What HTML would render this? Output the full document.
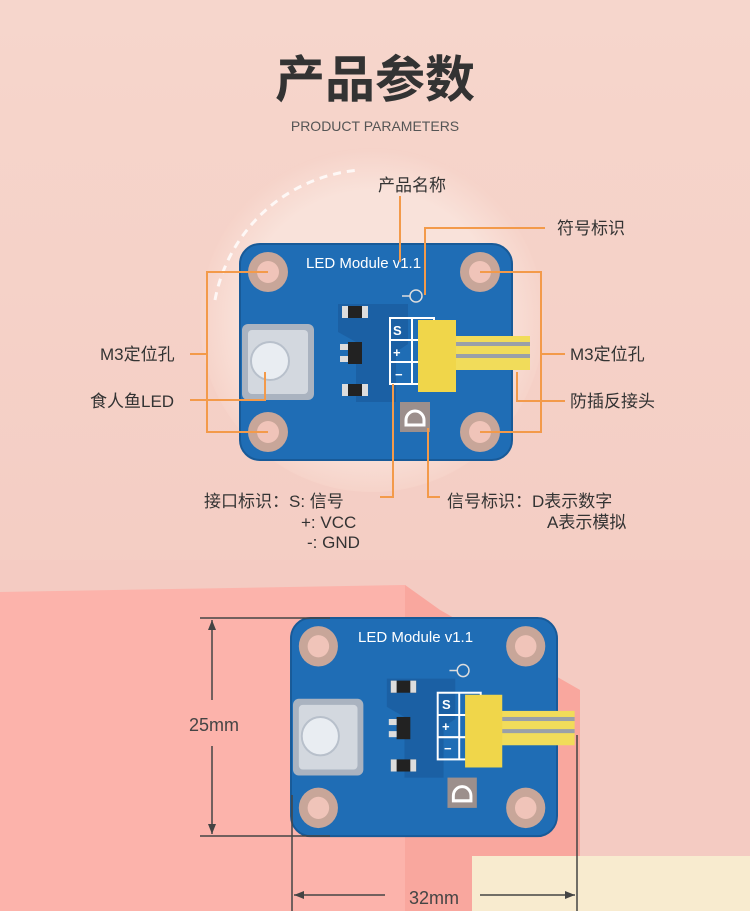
<!DOCTYPE html>
<html><head><meta charset="utf-8"><style>
html,body{margin:0;padding:0;width:750px;height:911px;overflow:hidden}
svg{display:block}
text{font-family:"Liberation Sans","Noto Sans CJK SC",sans-serif}
</style></head><body>
<svg width="750" height="911" viewBox="0 0 750 911" xmlns="http://www.w3.org/2000/svg">
<defs>
<linearGradient id="bg" x1="0" y1="0" x2="0" y2="1">
<stop offset="0" stop-color="#f6d6cc"/><stop offset="1" stop-color="#f3c8bf"/>
</linearGradient>
<radialGradient id="cg" cx="0.5" cy="0.5" r="0.5">
<stop offset="0.75" stop-color="#f9e2da"/><stop offset="1" stop-color="#f6d3c9"/>
</radialGradient>
<g id="board">
<rect x="0" y="0" width="272" height="216" rx="20" fill="#1f6db5"/>
<rect x="0" y="0" width="272" height="216" rx="20" fill="none" stroke="#185a98" stroke-width="2"/>
<g fill="#c8a699"><circle cx="28" cy="28" r="20"/><circle cx="240" cy="28" r="20"/><circle cx="28" cy="188" r="20"/><circle cx="240" cy="188" r="20"/></g>
<g fill="#f0c4b9"><circle cx="28" cy="28" r="11"/><circle cx="240" cy="28" r="11"/><circle cx="28" cy="188" r="11"/><circle cx="240" cy="188" r="11"/></g>
<rect x="2" y="80" width="72" height="76" rx="6" fill="#aab3c0"/>
<rect x="8" y="86" width="60" height="64" rx="4" fill="#d3d8df"/>
<circle cx="30" cy="117" r="19" fill="#e9edf2" stroke="#b8c0cb" stroke-width="2"/>
<path d="M98 60 h70 v40 l-12 8 v50 h-40 v-60 l-18 -10z" fill="#19599a" opacity="0.6"/>
<rect x="102" y="62" width="26" height="12" fill="#222"/><rect x="102" y="62" width="6" height="12" fill="#ddd"/><rect x="122" y="62" width="6" height="12" fill="#ddd"/>
<rect x="108" y="98" width="14" height="22" fill="#222"/><rect x="100" y="100" width="8" height="6" fill="#ddd"/><rect x="100" y="112" width="8" height="6" fill="#ddd"/>
<rect x="102" y="140" width="26" height="12" fill="#222"/><rect x="102" y="140" width="6" height="12" fill="#ddd"/><rect x="122" y="140" width="6" height="12" fill="#ddd"/>
<g stroke="#fff" stroke-width="2" fill="none"><rect x="150" y="74" width="44" height="66"/><line x1="172" y1="74" x2="172" y2="140"/><line x1="150" y1="96" x2="194" y2="96"/><line x1="150" y1="118" x2="194" y2="118"/></g>
<rect x="212" y="92" width="78" height="34" fill="#f1dc5a"/>
<rect x="212" y="98" width="78" height="4" fill="#9aa0a8"/><rect x="212" y="110" width="78" height="4" fill="#9aa0a8"/>
<rect x="178" y="76" width="38" height="72" fill="#f0d64a"/>
<rect x="160" y="158" width="30" height="30" fill="#9c8f8c"/>
<path d="M166 181 h18 v-5 a9 9 0 0 0 -18 0z" fill="none" stroke="#fff" stroke-width="3"/>
<circle cx="176" cy="52" r="6" fill="none" stroke="#ddd" stroke-width="1.5"/><line x1="162" y1="52" x2="170" y2="52" stroke="#ddd" stroke-width="1.5"/>
</g>
</defs>
<rect width="750" height="911" fill="url(#bg)"/>
<circle cx="372" cy="320" r="172" fill="url(#cg)"/>
<path d="M215 300 A160 160 0 0 1 360 170" fill="none" stroke="#fff" stroke-width="3" stroke-dasharray="8 6" opacity="0.8"/>
<rect x="0" y="560" width="750" height="351" fill="#f4cbc2"/>
<path d="M0 592 L405 585 L440 610 L580 690 L580 911 L0 911Z" fill="#fcb3ab"/>
<path d="M405 585 L440 610 L580 690 L580 911 L405 911Z" fill="#f9a79e"/>
<rect x="472" y="856" width="278" height="55" fill="#f8ebcf"/>
<text x="375" y="97" text-anchor="middle" font-size="50" font-weight="bold" fill="#333">产品参数</text>
<text x="375" y="131" text-anchor="middle" font-size="14" fill="#555">PRODUCT PARAMETERS</text>
<use href="#board" x="240" y="244"/>
<text x="306" y="268" font-size="15" fill="#fff">LED Module v1.1</text>
<g font-size="13" font-weight="bold" fill="#fff"><text x="393" y="335">S</text><text x="393" y="357">+</text><text x="395" y="379">−</text></g>
<g stroke="#f39a4a" stroke-width="2" fill="none">
<path d="M400 196 V262"/>
<path d="M545 228 H425 V295"/>
<path d="M190 354 H207 M268 272 H207 V432 H268"/>
<path d="M190 400 H265 V372"/>
<path d="M565 354 H541 M480 272 H541 V432 H480"/>
<path d="M565 401 H517 V372"/>
<path d="M380 497 H393 V384"/>
<path d="M440 497 H428 V428"/>
</g>
<g font-size="17" fill="#333">
<text x="378" y="191">产品名称</text>
<text x="557" y="234">符号标识</text>
<text x="100" y="360">M3定位孔</text>
<text x="90" y="407">食人鱼LED</text>
<text x="570" y="360">M3定位孔</text>
<text x="570" y="407">防插反接头</text>
<text x="204" y="507">接口标识：S: 信号</text>
<text x="301" y="528">+: VCC</text>
<text x="307" y="548">-: GND</text>
<text x="447" y="507">信号标识：D表示数字</text>
<text x="547" y="528">A表示模拟</text>
</g>
<use href="#board" transform="translate(291,618) scale(0.978,1.01)"/>
<text x="358" y="642" font-size="15" fill="#fff">LED Module v1.1</text>
<g font-size="13" font-weight="bold" fill="#fff"><text x="442" y="709">S</text><text x="442" y="731">+</text><text x="444" y="753">−</text></g>
<g stroke="#444" stroke-width="1.5" fill="#444">
<line x1="200" y1="618" x2="330" y2="618"/><line x1="200" y1="836" x2="330" y2="836"/>
<line x1="212" y1="620" x2="212" y2="700"/><line x1="212" y1="746" x2="212" y2="834"/>
<path d="M212 620 l-4 10 h8z M212 834 l-4 -10 h8z" stroke="none"/>
<line x1="292" y1="795" x2="292" y2="911"/><line x1="577" y1="735" x2="577" y2="911"/>
<line x1="294" y1="895" x2="385" y2="895"/><line x1="480" y1="895" x2="575" y2="895"/>
<path d="M294 895 l10 -4 v8z M575 895 l-10 -4 v8z" stroke="none"/>
</g>
<text x="214" y="731" text-anchor="middle" font-size="18" fill="#444">25mm</text>
<text x="434" y="904" text-anchor="middle" font-size="18" fill="#444">32mm</text>
</svg>
</body></html>
